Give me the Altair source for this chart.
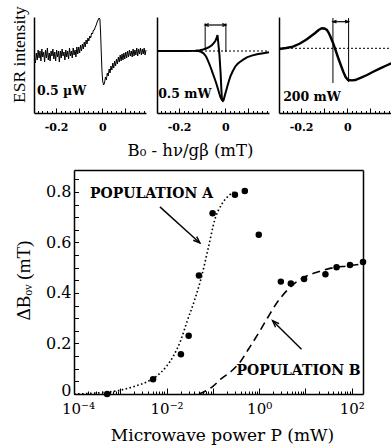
import altair as alt
import pandas as pd

SERIF = "DejaVu Serif"
TIMES = "Liberation Serif"
W, H = 391, 445

# ---------------- top row: ESR spectra (field offset in mT, intensity arb. units) ----------------
p1_spectrum = [
    (-0.290, 50), (-0.286, 60), (-0.282, 53), (-0.278, 63), (-0.274, 55), (-0.270, 62),
    (-0.266, 52), (-0.262, 64), (-0.258, 56), (-0.254, 61), (-0.250, 51), (-0.246, 63),
    (-0.242, 55), (-0.238, 65), (-0.234, 53), (-0.230, 60), (-0.226, 52), (-0.222, 62),
    (-0.218, 57), (-0.214, 64), (-0.210, 54), (-0.206, 61), (-0.202, 52), (-0.198, 63),
    (-0.194, 56), (-0.190, 62), (-0.186, 51), (-0.182, 62), (-0.178, 55), (-0.174, 64),
    (-0.170, 57), (-0.166, 61), (-0.162, 53), (-0.158, 63), (-0.154, 56), (-0.150, 62),
    (-0.146, 54), (-0.142, 65), (-0.138, 57), (-0.134, 62), (-0.130, 55), (-0.126, 65),
    (-0.122, 58), (-0.118, 63), (-0.114, 56), (-0.110, 66), (-0.106, 59), (-0.102, 66),
    (-0.098, 60), (-0.094, 68), (-0.090, 62), (-0.086, 69), (-0.082, 64), (-0.078, 71),
    (-0.074, 66), (-0.070, 73), (-0.066, 69), (-0.062, 75), (-0.058, 72), (-0.054, 77),
    (-0.050, 75), (-0.046, 80), (-0.042, 79), (-0.038, 83), (-0.034, 83), (-0.030, 86),
    (-0.026, 88), (-0.022, 91), (-0.018, 93), (-0.014, 95), (-0.010, 94), (-0.007, 80),
    (-0.004, 60), (-0.001, 42), (0.002, 32), (0.006, 28), (0.010, 30), (0.014, 36),
    (0.018, 33), (0.022, 40), (0.026, 37), (0.030, 44), (0.034, 40), (0.038, 47),
    (0.042, 43), (0.046, 50), (0.050, 45), (0.054, 52), (0.058, 47), (0.062, 54),
    (0.066, 49), (0.070, 56), (0.074, 51), (0.078, 58), (0.082, 52), (0.086, 59),
    (0.090, 53), (0.094, 60), (0.098, 54), (0.102, 61), (0.106, 55), (0.110, 62),
    (0.114, 56), (0.118, 63), (0.122, 57), (0.126, 62), (0.130, 56), (0.134, 64),
    (0.138, 57), (0.142, 63), (0.146, 58), (0.150, 65), (0.154, 57), (0.158, 64),
    (0.162, 59), (0.166, 65), (0.170, 58), (0.174, 64), (0.178, 59), (0.182, 65),
    (0.186, 58), (0.190, 63),
]
p2_spectrum = [
    (-0.296, 62), (-0.25, 62), (-0.2, 62), (-0.16, 62), (-0.13, 62.3), (-0.11, 62.8),
    (-0.096, 63.5), (-0.085, 64.3), (-0.074, 65.5), (-0.065, 66.7), (-0.057, 68),
    (-0.050, 69.8), (-0.043, 72), (-0.038, 74.5), (-0.0335, 78), (-0.030, 70),
    (-0.025, 58), (-0.020, 40), (-0.017, 25), (-0.014, 13), (-0.010, 12), (-0.007, 13),
    (0.0, 19), (0.007, 24.7), (0.014, 30.5), (0.022, 36.3), (0.032, 41.5), (0.043, 46.3),
    (0.054, 49.2), (0.065, 51.3), (0.080, 53.6), (0.094, 55.7), (0.115, 57.4),
    (0.138, 58.7), (0.165, 59.8), (0.19, 60.7),
]
p2_branch = [
    (-0.13, 62), (-0.116, 62), (-0.105, 61.2), (-0.094, 59.7), (-0.083, 56.5),
    (-0.073, 51.3), (-0.063, 45.5), (-0.054, 39.7), (-0.046, 34.5), (-0.039, 29.7),
    (-0.032, 24.5), (-0.026, 19.7), (-0.020, 15.5), (-0.014, 13),
]
p3_spectrum = [
    (-0.296, 64), (-0.265, 65), (-0.235, 66.3), (-0.205, 69.5), (-0.175, 73.7),
    (-0.155, 77.3), (-0.139, 80), (-0.124, 83), (-0.110, 84.7), (-0.099, 84.5),
    (-0.088, 83), (-0.081, 80.5), (-0.074, 77), (-0.061, 69.7), (-0.050, 62.5),
    (-0.039, 55), (-0.028, 48), (-0.017, 41.3), (-0.007, 36), (0.004, 33), (0.020, 32.6),
    (0.035, 33), (0.060, 35.3), (0.086, 38), (0.115, 41.5), (0.143, 44.7), (0.170, 47.5),
    (0.191, 49.7),
]
panel_baseline = [None, 62, 64.7]
p2_marker_field = [-0.087, 0.003]
p2_marker_low = [63.5, 61]
p2_marker_high = [89.7, 89.7]
p2_arrow_level = 88
p3_marker_field = [-0.062, 0.006]
p3_marker_low = [30, 31]
p3_marker_high = [95, 95]
p3_arrow_level = 91.3
panel_label_text = ["0.5  µW", "0.5  mW", "200  mW"]
panel_label_field = [-0.283, -0.291, -0.278]
panel_label_signal = [18, 15, 12]

panel_major = [-0.2, -0.1, 0.0, 0.1]
panel_major_labels = ["-0.2", "", "0", ""]
panel_minor = [-0.28, -0.26, -0.24, -0.22, -0.18, -0.16, -0.14, -0.12, -0.08, -0.06,
               -0.04, -0.02, 0.02, 0.04, 0.06, 0.08, 0.12, 0.14, 0.16, 0.18]

# ---------------- main plot: ΔB_ov vs microwave power ----------------
popA_power = [5.2e-4, 5.1e-3, 0.0204, 0.030, 0.050, 0.0986, 0.30, 0.49, 0.98]
popA_dB = [0.0, 0.058, 0.157, 0.231, 0.469, 0.716, 0.789, 0.804, 0.631]
popB_power = [2.94, 4.83, 9.35, 27, 47, 91.5, 175]
popB_dB = [0.445, 0.438, 0.455, 0.474, 0.502, 0.511, 0.523]
fitA_power = [1e-4, 3e-4, 1e-3, 2e-3, 4e-3, 6e-3, 0.01, 0.014, 0.02, 0.028, 0.04,
              0.056, 0.08, 0.11, 0.16, 0.22, 0.28]
fitA_dB = [0.0, 0.004, 0.015, 0.03, 0.05, 0.07, 0.11, 0.15, 0.21, 0.29, 0.37,
           0.46, 0.58, 0.69, 0.755, 0.785, 0.80]
fitB_power = [0.05, 0.1, 0.15, 0.25, 0.4, 0.6, 1.0, 1.5, 2.5, 4, 6, 10, 20, 40, 80, 175]
fitB_dB = [0.0, 0.03, 0.06, 0.09, 0.13, 0.18, 0.245, 0.30, 0.365, 0.41, 0.44,
           0.465, 0.485, 0.50, 0.507, 0.515]
annot_text = ["POPULATION  A", "POPULATION  B"]
annot_power = [2.21e-4, 0.325]
annot_dB = [0.776, 0.075]
arrowA = dict(p=[7.18e-3], d=[0.741], p2=[0.0524], d2=[0.598])
arrowB = dict(p=[8.22], d=[0.177], p2=[1.95], d2=[0.29])

x_major = [1e-4, 1e-3, 1e-2, 1e-1, 1, 10, 100]
x_major_labels = ["10⁻⁴", "", "10⁻²", "", "10⁰", "", "10²"]
x_minor = [m * 10.0 ** e for e in range(-4, 3) for m in range(2, 10) if m * 10.0 ** e < 175]
y_ticks = [0, 0.05, 0.1, 0.15, 0.2, 0.25, 0.3, 0.35, 0.4, 0.45, 0.5, 0.55, 0.6, 0.65,
           0.7, 0.75, 0.8, 0.85]
y_tick_labels = ["0", "", "", "", "0.2", "", "", "", "0.4", "", "", "", "0.6", "", "",
                 "", "0.8", ""]

# ---------------- layout (scale ranges in pixels) ----------------
PANEL_LEFT = [34, 157, 279]
PANEL_W = 112
PANEL_BOTTOM, PANEL_TOP = 113, 17
FIELD_DOMAIN = [-0.296, 0.19]
SIGNAL_DOMAIN = [0, 96]
MAIN_L, MAIN_R, MAIN_B, MAIN_T = 74, 363, 394, 170

ARROW = "M-0.6,1.6L0,0L0.6,1.6"


def lbl_expr(values, labels):
    expr = "''"
    for v, l in reversed(list(zip(values, labels))):
        if l:
            expr = f"abs(datum.value - ({v})) < 1e-9 ? '{l}' : ({expr})"
    return expr


def px(i):
    return alt.Scale(type="linear", domain=FIELD_DOMAIN,
                     range=[PANEL_LEFT[i], PANEL_LEFT[i] + PANEL_W], nice=False, zero=False)


def py():
    return alt.Scale(type="linear", domain=SIGNAL_DOMAIN, range=[PANEL_BOTTOM, PANEL_TOP],
                     nice=False, zero=False)


def panel_x_axis(i):
    kw = dict(orient="top", offset=-PANEL_BOTTOM, values=panel_major,
              labelExpr=lbl_expr(panel_major, panel_major_labels),
              tickSize=5, tickColor="black", tickWidth=1, domainColor="black", domainWidth=1.5,
              labelPadding=-13.5, labelBaseline="top", labelAlign="center", labelFont=SERIF,
              labelFontWeight="bold", labelFontSize=11, labelColor="black",
              labelOverlap=False, labelFlush=False, grid=False)
    if i == 1:
        kw.update(title="B₀ - hν/gβ (mT)", titleX=190, titleY=42, titleAlign="center",
                  titleBaseline="alphabetic", titleFont=SERIF, titleFontSize=16.5,
                  titleFontWeight="normal", titleColor="black")
    else:
        kw.update(title=None)
    return alt.Axis(**kw)


def panel_y_axis(i):
    kw = dict(orient="left", offset=-PANEL_LEFT[i], ticks=False, labels=False,
              domainColor="black", domainWidth=1.5, grid=False)
    if i == 0:
        kw.update(title="ESR intensity", titleX=-15, titleY=54, titleAngle=270,
                  titleAlign="center", titleBaseline="middle", titleFont=TIMES,
                  titleFontSize=17.5, titleFontWeight="normal", titleColor="black")
    else:
        kw.update(title=None)
    return alt.Axis(**kw)


spectra = [p1_spectrum, p2_spectrum, p3_spectrum]
trace_width = [1.0, 2.0, 2.4]


def make_panel(i):
    X = lambda f: alt.X(f"{f}:Q", scale=px(i), axis=None)
    Y = lambda f: alt.Y(f"{f}:Q", scale=py(), axis=None)
    df = pd.DataFrame(spectra[i], columns=["field", "signal"])
    layers = [
        alt.Chart(df).mark_line(color="black", strokeWidth=trace_width[i]).encode(
            x=alt.X("field:Q", scale=px(i), axis=panel_x_axis(i)),
            y=alt.Y("signal:Q", scale=py(), axis=panel_y_axis(i)),
        )
    ]
    if panel_baseline[i] is not None:
        bdf = pd.DataFrame({"field": FIELD_DOMAIN, "signal": [panel_baseline[i]] * 2})
        layers.append(alt.Chart(bdf).mark_line(color="black", strokeWidth=1,
                                               strokeDash=[2, 2]).encode(x=X("field"), y=Y("signal")))
    if i == 1:
        layers.append(alt.Chart(pd.DataFrame(p2_branch, columns=["field", "signal"]))
                      .mark_line(color="black", strokeWidth=2.0)
                      .encode(x=X("field"), y=Y("signal")))
    if i in (1, 2):
        mf, lo, hi, lvl = ((p2_marker_field, p2_marker_low, p2_marker_high, p2_arrow_level)
                           if i == 1 else
                           (p3_marker_field, p3_marker_low, p3_marker_high, p3_arrow_level))
        mdf = pd.DataFrame({"field": mf, "lo": lo, "hi": hi})
        layers.append(alt.Chart(mdf).mark_rule(color="black", strokeWidth=1)
                      .encode(x=X("field"), y=Y("lo"), y2="hi"))
        adf = pd.DataFrame({"f1": [mf[0]], "f2": [mf[1]], "lvl": [lvl]})
        layers.append(alt.Chart(adf).mark_rule(color="black", strokeWidth=1.2)
                      .encode(x=X("f1"), x2="f2", y=Y("lvl")))
        layers.append(alt.Chart(adf).mark_point(shape=ARROW, size=20, angle=270, filled=False,
                                                color="black", opacity=1, strokeWidth=1.2)
                      .encode(x=X("f1"), y=Y("lvl")))
        layers.append(alt.Chart(adf).mark_point(shape=ARROW, size=20, angle=90, filled=False,
                                                color="black", opacity=1, strokeWidth=1.2)
                      .encode(x=X("f2"), y=Y("lvl")))
    ldf = pd.DataFrame({"field": [panel_label_field[i]], "signal": [panel_label_signal[i]],
                        "t": [panel_label_text[i]]})
    layers.append(alt.Chart(ldf).mark_text(align="left", baseline="alphabetic", font=SERIF,
                                           fontWeight="bold", fontSize=12.5, color="black")
                  .encode(x=X("field"), y=Y("signal"), text="t:N"))
    # minor ticks of the field axis
    layers.append(alt.Chart(pd.DataFrame({"t": panel_minor})).mark_point(opacity=0).encode(
        x=alt.X("t:Q", scale=px(i), axis=alt.Axis(orient="top", offset=-PANEL_BOTTOM,
                                                    values=panel_minor, tickSize=2.5,
                                                    tickColor="black", tickWidth=1,
                                                    labels=False, domain=False, grid=False,
                                                    title=None))))
    return layers


# ---------------- main plot ----------------
def MX():
    return alt.Scale(type="log", domain=[1e-4, 175], range=[MAIN_L, MAIN_R], nice=False)


def MY():
    return alt.Scale(type="linear", domain=[0, 0.887], range=[MAIN_B, MAIN_T], nice=False,
                     zero=False)


pts = pd.DataFrame({"P": popA_power + popB_power, "dB": popA_dB + popB_dB})
x_axis_main = alt.Axis(orient="top", offset=-MAIN_B, values=x_major,
                       labelExpr=lbl_expr(x_major, x_major_labels), tickSize=6,
                       tickColor="black", tickWidth=1, domainColor="black", domainWidth=1.5,
                       labelPadding=-13, labelBaseline="top", labelAlign="center",
                       labelOffset={"condition": {"test": "datum.value < 0.0002", "value": 4},
                                    "value": 0},
                       labelFont=SERIF, labelFontSize=15, labelColor="black",
                       labelOverlap=False, labelFlush=False, grid=False,
                       title="Microwave power P (mW)", titleX=222, titleY=46,
                       titleAlign="center", titleBaseline="alphabetic", titleFont=SERIF,
                       titleFontSize=17, titleFontWeight="normal", titleColor="black")
y_axis_main = alt.Axis(orient="right", offset=MAIN_L - W, values=y_ticks,
                       labelExpr=lbl_expr(y_ticks, y_tick_labels), tickSize=4.5,
                       tickColor="black", tickWidth=1, domainColor="black", domainWidth=1.5,
                       labelPadding=-7.5, labelAlign="right", labelBaseline="middle",
                       labelOffset={"condition": {"test": "datum.value < 0.01", "value": -4},
                                    "value": 0},
                       labelFont=SERIF, labelFontSize=16, labelColor="black",
                       labelOverlap=False, labelFlush=False, grid=False,
                       title="ΔBₒᵥ (mT)", titleX=-51, titleY=280, titleAngle=270,
                       titleAlign="center", titleBaseline="middle", titleFont=TIMES,
                       titleFontSize=19, titleFontWeight="normal", titleColor="black")

points = alt.Chart(pts).mark_circle(size=42, color="black", opacity=1).encode(
    x=alt.X("P:Q", scale=MX(), axis=x_axis_main),
    y=alt.Y("dB:Q", scale=MY(), axis=y_axis_main),
)
fitA = alt.Chart(pd.DataFrame({"P": fitA_power, "dB": fitA_dB})).mark_line(
    color="black", strokeWidth=1.6, strokeDash=[1.6, 2.4], interpolate="monotone").encode(
    x=alt.X("P:Q", scale=MX(), axis=None), y=alt.Y("dB:Q", scale=MY(), axis=None))
fitB = alt.Chart(pd.DataFrame({"P": fitB_power, "dB": fitB_dB})).mark_line(
    color="black", strokeWidth=1.6, strokeDash=[8, 5], interpolate="monotone").encode(
    x=alt.X("P:Q", scale=MX(), axis=None), y=alt.Y("dB:Q", scale=MY(), axis=None))
annots = alt.Chart(pd.DataFrame({"P": annot_power, "dB": annot_dB, "t": annot_text})).mark_text(
    align="left", baseline="alphabetic", font=SERIF, fontWeight="bold", fontSize=14,
    color="black").encode(
    x=alt.X("P:Q", scale=MX(), axis=None), y=alt.Y("dB:Q", scale=MY(), axis=None), text="t:N")


def arrow(d, ang):
    df = pd.DataFrame(d)
    shaft = alt.Chart(df).mark_rule(color="black", strokeWidth=1.4).encode(
        x=alt.X("p:Q", scale=MX(), axis=None), y=alt.Y("d:Q", scale=MY(), axis=None),
        x2="p2", y2="d2")
    head = alt.Chart(df).mark_point(shape=ARROW, size=70, angle=ang, filled=False,
                                    color="black", opacity=1, strokeWidth=1.4).encode(
        x=alt.X("p2:Q", scale=MX(), axis=None), y=alt.Y("d2:Q", scale=MY(), axis=None))
    return [shaft, head]


main_minor = alt.Chart(pd.DataFrame({"t": x_minor})).mark_point(opacity=0).encode(
    x=alt.X("t:Q", scale=MX(), axis=alt.Axis(orient="top", offset=-MAIN_B, values=x_minor,
                                             tickSize=3, tickColor="black", tickWidth=1,
                                             labels=False, domain=False, grid=False,
                                             title=None)))

main_frame = alt.Chart(pd.DataFrame({"P": [1.0], "dB": [0.5]})).mark_point(opacity=0).encode(
    x=alt.X("P:Q", scale=MX(), axis=alt.Axis(orient="bottom", offset=MAIN_T - H, ticks=False,
                                             labels=False, domainColor="black",
                                             domainWidth=1.5, grid=False, title=None)),
    y=alt.Y("dB:Q", scale=MY(), axis=alt.Axis(orient="left", offset=-MAIN_R, ticks=False,
                                              labels=False, domainColor="black",
                                              domainWidth=1.5, grid=False, title=None)),
)

all_layers = (make_panel(0) + make_panel(1) + make_panel(2)
              + [points, fitA, fitB, annots] + arrow(arrowA, 133) + arrow(arrowB, 315)
              + [main_minor, main_frame])

chart = alt.layer(*all_layers).resolve_scale(x="independent", y="independent").properties(
    width=W, height=H, autosize=alt.AutoSizeParams(type="none"), padding=0,
    background="white",
).configure_view(strokeWidth=0)

chart.save("out.html", embed_options={"renderer": "svg", "actions": False})
